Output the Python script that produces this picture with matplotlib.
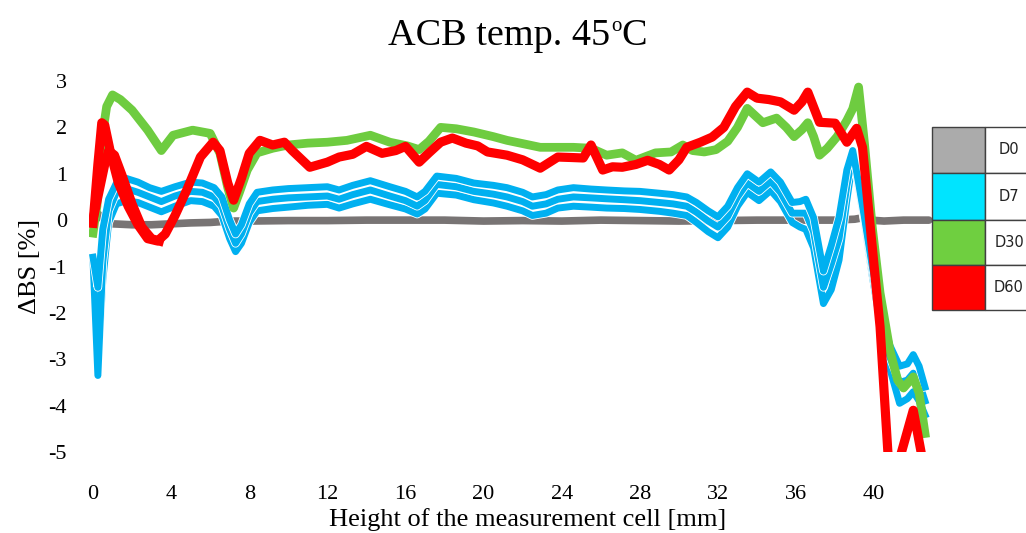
import numpy as np
import matplotlib
matplotlib.use("Agg")
import matplotlib.pyplot as plt
import matplotlib.patheffects as pe
from matplotlib.patches import Rectangle

plt.rcParams['font.family'] = 'Liberation Serif'
plt.rcParams['axes.unicode_minus'] = False

# ---- data ----
x_ticks = [0, 4, 8, 12, 16, 20, 24, 28, 32, 36, 40]
y_ticks = [-5, -4, -3, -2, -1, 0, 1, 2, 3]

x_d0 = [0, 0.3, 0.6, 1.0, 2.0, 3.0, 4.0, 5.0, 6.0, 7.0, 8.0, 10, 12, 14, 16, 18, 20, 22,
        24, 26, 28, 30, 32, 34, 36, 38, 39, 39.4, 39.8, 40.5, 41.5, 42.8]
y_d0 = [0.05, 0.12, -0.03, -0.08, -0.1, -0.1, -0.08, -0.06, -0.05, -0.02, -0.02, -0.01, -0.01,
        0.0, 0.0, 0.0, -0.02, -0.01, -0.02, 0.0, -0.01, -0.02, -0.01, 0.0, 0.0, 0.0, 0.02, 0.05,
        0.0, -0.02, 0.0, 0.0]

x_d7 = [0, 0.25, 0.5, 0.8, 1.2, 1.7, 2.3, 2.9, 3.5, 4.2, 5.0, 5.6, 6.2, 6.6, 7.0, 7.3, 7.6,
        8.0, 8.4, 9.2, 10.0, 11.0, 12.0, 12.6, 13.3, 14.2, 15.2, 16.0, 16.6, 17.0, 17.6, 18.6,
        19.5, 20.5, 21.2, 22.0, 22.5, 23.2, 23.8, 24.6, 25.5, 26.3, 27.2, 28.0, 29.0, 29.7,
        30.4, 30.9, 31.5, 32.0, 32.5, 33.0, 33.5, 34.1, 34.7, 35.2, 35.8, 36.2, 36.5, 36.9,
        37.4, 37.8, 38.2, 38.6, 38.9, 39.2, 39.5, 39.9, 40.3, 40.8, 41.3, 41.7, 42.0, 42.3, 42.6]
y_d7_top = [-0.8, -1.45, -0.2, 0.45, 0.8, 0.9, 0.82, 0.7, 0.62, 0.72, 0.82, 0.8, 0.7, 0.5,
            0.0, -0.3, -0.1, 0.35, 0.6, 0.65, 0.68, 0.7, 0.72, 0.65, 0.75, 0.85, 0.72, 0.62,
            0.5, 0.62, 0.95, 0.9, 0.8, 0.75, 0.7, 0.6, 0.5, 0.55, 0.65, 0.7, 0.67, 0.65, 0.63,
            0.62, 0.58, 0.55, 0.5, 0.38, 0.2, 0.07, 0.3, 0.7, 1.0, 0.82, 1.04, 0.82, 0.38, 0.4,
            0.45, 0.05, -1.1, -0.55, 0.06, 1.08, 1.5, 0.8, 0.06, -1.0, -1.9, -2.7, -3.15, -3.1,
            -2.9, -3.15, -3.6]
y_d7_mid = [-0.85, -3.35, -0.9, 0.2, 0.6, 0.68, 0.6, 0.5, 0.4, 0.52, 0.62, 0.6, 0.5, 0.3,
            -0.2, -0.5, -0.3, 0.15, 0.4, 0.45, 0.48, 0.5, 0.52, 0.45, 0.55, 0.65, 0.52, 0.42,
            0.3, 0.42, 0.77, 0.72, 0.62, 0.56, 0.5, 0.4, 0.3, 0.35, 0.45, 0.5, 0.48, 0.46, 0.44,
            0.42, 0.38, 0.35, 0.3, 0.17, -0.02, -0.15, 0.08, 0.5, 0.8, 0.62, 0.84, 0.6, 0.15,
            0.15, 0.15, -0.25, -1.45, -0.95, -0.4, 0.75, 1.4, 0.75, 0.0, -1.1, -2.05, -2.95,
            -3.5, -3.45, -3.3, -3.5, -3.9]
y_d7_low = [-0.9, -3.2, -1.3, -0.05, 0.35, 0.42, 0.38, 0.28, 0.18, 0.3, 0.42, 0.4, 0.3, 0.1,
            -0.4, -0.68, -0.5, -0.05, 0.2, 0.25, 0.28, 0.32, 0.34, 0.26, 0.35, 0.45, 0.33, 0.24,
            0.13, 0.24, 0.58, 0.54, 0.44, 0.37, 0.3, 0.2, 0.1, 0.15, 0.26, 0.3, 0.28, 0.26, 0.25,
            0.23, 0.19, 0.15, 0.1, -0.05, -0.25, -0.38, -0.15, 0.3, 0.6, 0.42, 0.64, 0.4, -0.05,
            -0.15, -0.2, -0.6, -1.8, -1.5, -0.86, 0.43, 1.3, 0.7, -0.05, -1.2, -2.2, -3.2,
            -3.95, -3.85, -3.7, -3.9, -4.2]

x_d30 = [0, 0.2, 0.4, 0.7, 1.0, 1.4, 2.0, 2.8, 3.5, 4.1, 5.1, 6.0, 6.5, 6.9, 7.2, 7.5, 7.9,
         8.4, 9.2, 10.0, 11.0, 12.0, 13.0, 14.2, 15.2, 16.1, 16.7, 17.2, 17.8, 18.6, 19.5,
         20.5, 21.2, 22.0, 22.9, 23.8, 24.6, 25.5, 26.3, 27.1, 27.8, 28.8, 29.6, 30.2, 30.7,
         31.3, 31.9, 32.5, 33.0, 33.5, 34.3, 35.0, 35.5, 35.9, 36.3, 36.6, 36.9, 37.2, 37.6,
         38.1, 38.6, 38.9, 39.2, 39.5, 39.9, 40.3, 40.8, 41.2, 41.5, 42.0, 42.3, 42.6]
y_d30 = [-0.28, 0.3, 1.6, 2.45, 2.7, 2.6, 2.37, 1.94, 1.5, 1.83, 1.94, 1.87, 1.44, 0.7, 0.26,
         0.6, 1.08, 1.45, 1.55, 1.62, 1.66, 1.68, 1.72, 1.83, 1.68, 1.6, 1.52, 1.7, 2.0, 1.97,
         1.9, 1.8, 1.72, 1.65, 1.57, 1.57, 1.57, 1.55, 1.4, 1.45, 1.29, 1.45, 1.47, 1.62, 1.5,
         1.47, 1.52, 1.7, 2.0, 2.41, 2.1, 2.2, 2.0, 1.8, 1.95, 2.1, 1.8, 1.4, 1.55, 1.8, 2.15,
         2.4, 2.87, 1.66, -0.15, -1.57, -2.8, -3.45, -3.62, -3.38, -3.73, -4.6]

x_d60 = [0, 0.25, 0.45, 0.6, 0.9, 1.3, 1.8, 2.3, 2.8, 3.3, 3.7, 4.2, 4.8, 5.5, 6.15, 6.5,
         6.9, 7.2, 7.6, 8.0, 8.55, 9.2, 9.8, 10.2, 11.1, 12.0, 12.6, 13.3, 14.0, 14.8, 15.5,
         16.0, 16.7, 17.2, 17.8, 18.4, 19.1, 19.7, 20.2, 21.2, 22.0, 22.9, 23.8, 24.5, 25.1,
         25.5, 26.1, 26.6, 27.1, 27.8, 28.4, 29.0, 29.5, 30.0, 30.4, 31.1, 31.7, 32.3, 32.9,
         33.5, 34.0, 34.6, 35.2, 35.9, 36.3, 36.6, 37.2, 38.0, 38.6, 39.1, 39.4, 39.8, 40.3,
         40.7, 41.0, 41.4, 42.0, 42.4, 42.6]
y_d60 = [-0.07, 1.2, 2.1, 2.05, 1.45, 0.8, 0.3, -0.1, -0.4, -0.45, -0.3, 0.1, 0.65, 1.36,
         1.68, 1.5, 0.8, 0.43, 0.9, 1.44, 1.72, 1.62, 1.68, 1.5, 1.14, 1.25, 1.36, 1.42, 1.59,
         1.44, 1.5, 1.59, 1.25, 1.45, 1.68, 1.77, 1.66, 1.6, 1.47, 1.4, 1.3, 1.12, 1.36, 1.35,
         1.34, 1.62, 1.08, 1.15, 1.14, 1.2, 1.29, 1.2, 1.08, 1.3, 1.57, 1.68, 1.79, 2.0, 2.45,
         2.76, 2.63, 2.6, 2.55, 2.37, 2.55, 2.76, 2.11, 2.09, 1.68, 1.98, 1.57, -0.15, -2.3,
         -5.0, -5.6, -5.0, -4.1, -5.0, -5.6]
# second D60 trace that separates only near the bottom of the cell
x_d60b = [0, 0.3, 0.6, 0.8, 1.1, 1.5, 2.0, 2.5, 3.0, 3.4]
y_d60b = [0.0, 0.6, 1.2, 1.5, 1.4, 0.95, 0.35, -0.15, -0.4, -0.45]

legend_labels = ['D0', 'D7', 'D30', 'D60']
legend_colors = ['#ababab', '#00e4ff', '#6fcf40', '#ff0000']

c_d0, c_d7, c_d30, c_d60 = '#787474', '#00b0f0', '#6ecc40', '#ff0000'

W, H = 1026, 533
fig = plt.figure(figsize=(W / 100, H / 100), dpi=100)
# axes placed in pixels: x=0 at px 93 (19.53 px/mm), y=-5 at px 452, y=3 at px 81
x0, x1 = -0.2, 43.0
ax = fig.add_axes([(93 + x0 * 19.53) / W, (H - 452) / H, (x1 - x0) * 19.53 / W, 371 / H])
ax.set_xlim(x0, x1)
ax.set_ylim(-5, 3)

ax.plot(x_d0, y_d0, color=c_d0, lw=5.5, solid_capstyle='round')
stroke = [pe.Stroke(linewidth=6.2, foreground='white'), pe.Normal()]
for yy in (y_d7_low, y_d7_mid, y_d7_top):
    ax.plot(x_d7, yy, color=c_d7, lw=5.0, path_effects=stroke, solid_joinstyle='round')
ax.plot(x_d30, y_d30, color=c_d30, lw=6.3, solid_joinstyle='round')
ax.plot(x_d60b, y_d60b, color=c_d60, lw=6.6, solid_joinstyle='round')
ax.plot(x_d60, y_d60, color=c_d60, lw=6.6, solid_joinstyle='round')

for s in ax.spines.values():
    s.set_visible(False)
ax.set_xticks(x_ticks)
ax.set_yticks(y_ticks)
ax.tick_params(length=0, labelsize=16)
ax.tick_params(axis='y', pad=16)
ax.tick_params(axis='x', pad=24)
ax.set_xlabel('Height of the measurement cell [mm]', fontsize=19)
ax.xaxis.set_label_coords(0.52, -0.152)
ax.set_ylabel('ΔBS [%]', fontsize=19, family=['Liberation Serif', 'DejaVu Serif'])
ax.yaxis.set_label_coords(-0.057, 0.5)

# title in three pieces so the degree "o" stays small
r = fig.canvas.get_renderer()
ty = 1 - 45 / H
t1 = fig.text(0, ty, 'ACB temp. 45', fontsize=27.5, va='baseline')
t2 = fig.text(0, ty, 'o', fontsize=15, va='baseline')
t3 = fig.text(0, ty, 'C', fontsize=27.5, va='baseline')
w1 = t1.get_window_extent(r).width
w2 = t2.get_window_extent(r).width
w3 = t3.get_window_extent(r).width
left = 517 - (w1 + w2 + w3) / 2
t1.set_x(left / W)
t2.set_position(((left + w1 + 1) / W, ty + 14 / H))
t3.set_x((left + w1 + w2 + 1) / W)

# table-like legend on the right edge
rows = [127, 173, 220, 265, 310]
for i, (lab, col) in enumerate(zip(legend_labels, legend_colors)):
    top, bot = rows[i], rows[i + 1]
    fig.add_artist(Rectangle((932 / W, 1 - bot / H), 53 / W, (bot - top) / H,
                             transform=fig.transFigure, facecolor=col, edgecolor='#404040', lw=1))
    fig.add_artist(Rectangle((985 / W, 1 - bot / H), 60 / W, (bot - top) / H,
                             transform=fig.transFigure, facecolor='white', edgecolor='#404040', lw=1))
    fig.text(1009 / W, 1 - (top + bot) / 2 / H, lab, ha='center', va='center', fontsize=10.5,
             family='DejaVu Sans', color='#222222')

fig.savefig('out.png', dpi=100)
